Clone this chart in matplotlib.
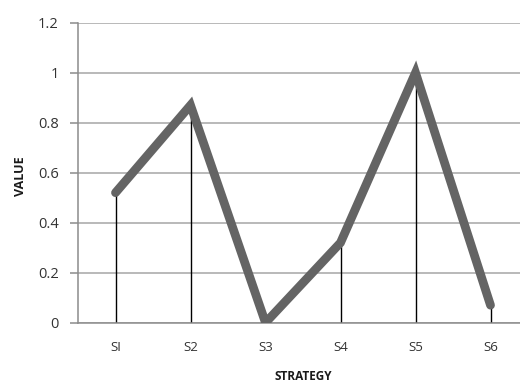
import numpy as np
import matplotlib.pyplot as plt

# strategy scores
strategies = ['SI', 'S2', 'S3', 'S4', 'S5', 'S6']
values = [0.52, 0.87, 0.0, 0.32, 1.0, 0.07]
yticks = [0, 0.2, 0.4, 0.6, 0.8, 1.0, 1.2]
yticklabels = ['0', '0.2', '0.4', '0.6', '0.8', '1', '1.2']

plt.rcParams['font.family'] = ['Open Sans', 'DejaVu Sans']

fig = plt.figure(figsize=(5.2, 3.85), dpi=100)
# plot area runs a little past the right edge of the figure
ax = fig.add_axes([78/520, 62.3/385, 450/520, 300/385])

x = np.arange(len(strategies))

ax.set_ylim(0, 1.2)
ax.set_xlim(-0.5, len(strategies) - 0.5)
ax.set_yticks(yticks)
ax.set_yticklabels(yticklabels)
ax.set_xticks(x)
ax.set_xticklabels(strategies)

ax.yaxis.grid(True, color='#a6a6a6', linewidth=1.1)
ax.set_axisbelow(True)

# drop lines from each point to the baseline
ax.vlines(x, 0, values, color='black', linewidth=1.0, zorder=2)
ax.plot(x, values, color='#646464', linewidth=6.3, solid_capstyle='round',
        solid_joinstyle='miter', zorder=3)

for side in ['top', 'right']:
    ax.spines[side].set_visible(False)
for side in ['left', 'bottom']:
    ax.spines[side].set_color('#8c8c8c')
    ax.spines[side].set_linewidth(1.1)

ax.tick_params(axis='y', length=6, width=1.1, color='#8c8c8c', pad=8,
               labelsize=10.5, labelcolor='#333333')
ax.tick_params(axis='x', length=0, pad=13, labelsize=9.5, labelcolor='#333333')

fig.text(20/520, 1 - 176/385, 'VALUE', rotation=90, ha='center', va='center',
         fontsize=9, fontweight='bold', color='#1a1a1a')
fig.text(303/520, 1 - 376/385, 'STRATEGY', ha='center', va='center',
         fontsize=8.5, fontweight='bold', color='#1a1a1a')

fig.savefig('out.png', dpi=100)
